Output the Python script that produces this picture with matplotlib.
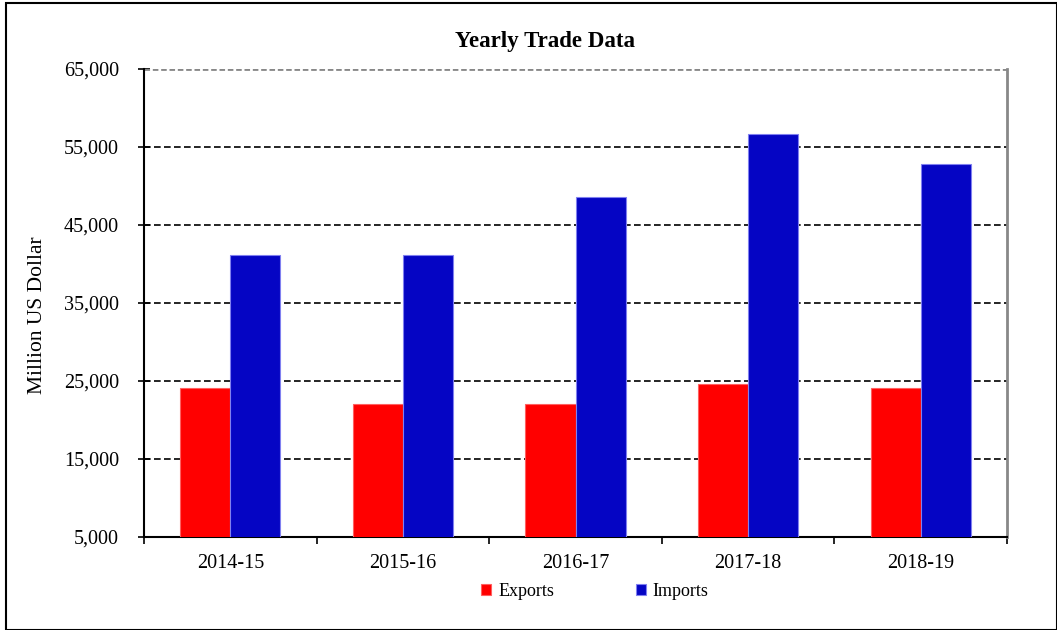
import matplotlib
matplotlib.use('Agg')

import numpy as np
import matplotlib.pyplot as plt
from matplotlib.patches import Rectangle
from matplotlib.ticker import FuncFormatter, FixedLocator

plt.rcParams['font.family'] = ['Liberation Serif', 'DejaVu Serif']

years = ['2014-15', '2015-16', '2016-17', '2017-18', '2018-19']
exports = [24100, 22050, 22050, 24600, 24100]
imports = [41150, 41150, 48600, 56650, 52800]

fig = plt.figure(figsize=(10.57, 6.3), dpi=100)
ax = fig.add_axes([144 / 1057, 1 - 537 / 630, 863 / 1057, 468 / 630])

x = np.arange(len(years))
w = 0.29
ax.bar(x - w / 2, exports, w, color='#ff0000', edgecolor='#ff6060', linewidth=0.8,
       label='Exports', zorder=3)
ax.bar(x + w / 2, imports, w, color='#0505c4', edgecolor='#8080f0', linewidth=0.8,
       label='Imports', zorder=3)

ax.set_xlim(-0.5, len(years) - 0.5)
ax.set_ylim(5000, 65000)
ax.set_yticks(np.arange(5000, 65001, 10000))
ax.yaxis.set_major_formatter(FuncFormatter(lambda v, p: f'{int(v):,}'))
ax.set_xticks(x)
ax.set_xticklabels(years)
ax.xaxis.set_minor_locator(FixedLocator(np.arange(-0.5, len(years), 1.0)))

ax.tick_params(axis='y', direction='inout', length=8, width=1.2, labelsize=14.5, pad=14)
ax.tick_params(axis='x', which='major', length=0, labelsize=14.5, pad=12)
ax.tick_params(axis='x', which='minor', direction='out', length=5, width=1.2)

for yv in np.arange(15000, 60000, 10000):
    ax.axhline(yv, color='black', linestyle=(0, (4, 2)), linewidth=1.2, zorder=2)
ax.axhline(65000, color='#888888', linestyle=(0, (2, 1)), linewidth=2.0, zorder=2)

ax.spines['left'].set_linewidth(1.5)
ax.spines['bottom'].set_linewidth(1.5)
ax.spines['top'].set_visible(False)
ax.spines['right'].set_color('#888888')
ax.spines['right'].set_linewidth(2)

ax.set_ylabel('Million US Dollar', fontsize=15.5, labelpad=12)
ax.yaxis.label.set_y(0.475)

fig.text(545 / 1057, 1 - 42 / 630, 'Yearly Trade Data', fontsize=16.5,
         fontweight='bold', ha='center', va='center')

fig.legend(loc='center', bbox_to_anchor=(595 / 1057, 1 - 591 / 630), ncol=2,
           frameon=False, fontsize=13, handlelength=0.55, handleheight=0.55,
           columnspacing=4.5, handletextpad=0.4)

fig.patches.append(Rectangle((6 / 1057, 0), 1 - 6 / 1057, 1 - 3 / 630,
                             transform=fig.transFigure, fill=False,
                             edgecolor='black', linewidth=1.5))

plt.savefig('out.png', dpi=100)
plt.close()
